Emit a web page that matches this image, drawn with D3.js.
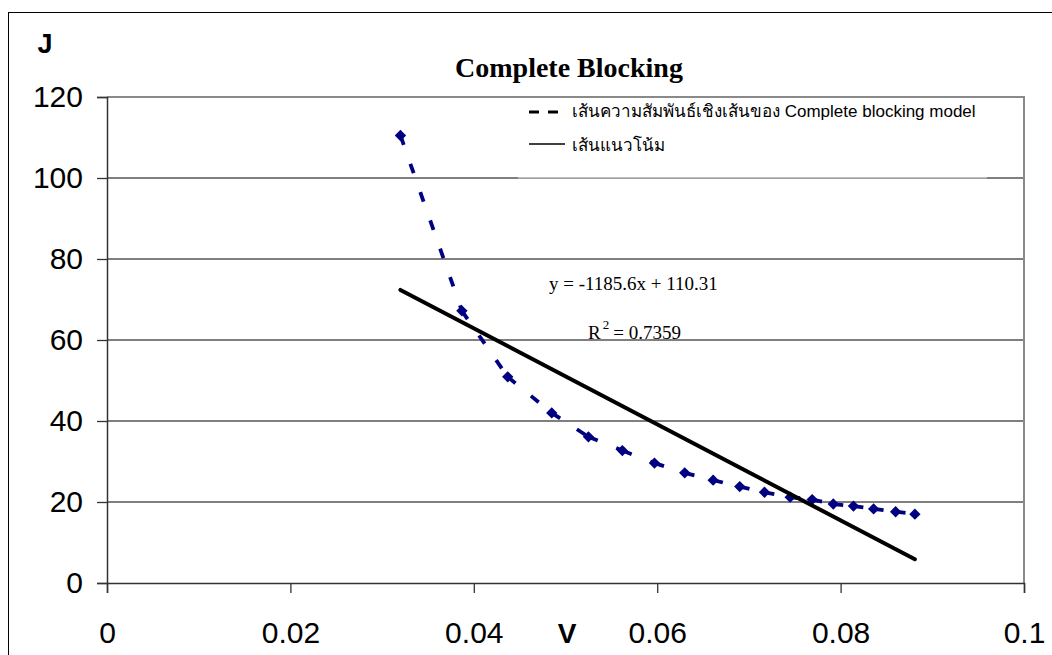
<!DOCTYPE html>
<html>
<head>
<meta charset="utf-8">
<script src="https://cdn.jsdelivr.net/npm/d3@7"></script>
<style>
  html, body { margin: 0; padding: 0; background: #fff; }
  svg { display: block; }
</style>
</head>
<body>
<div id="chart"></div>
<script>
// Flux J against V for the complete blocking model
const V = [0.0320, 0.0387, 0.0437, 0.0485, 0.0525, 0.0562, 0.0597, 0.0630, 0.0661,
           0.0690, 0.0717, 0.0745, 0.0769, 0.0792, 0.0814, 0.0836, 0.0860, 0.0881];
const J = [110.5, 67.2, 50.9, 42.0, 36.1, 32.7, 29.6, 27.2, 25.4,
           23.8, 22.4, 21.2, 20.6, 19.5, 19.0, 18.3, 17.6, 17.0];

// Linear trend line as reported on the chart
const trendSlope = -1185.6;
const trendIntercept = 110.31;
const rSquared = "0.7359";

const xTicks = [0, 0.02, 0.04, 0.06, 0.08, 0.1];
const xTickLabels = ["0", "0.02", "0.04", "0.06", "0.08", "0.1"];
const yTicks = [0, 20, 40, 60, 80, 100, 120];

const legendLabels = ["เส้นความสัมพันธ์เชิงเส้นของ Complete blocking model", "เส้นแนวโน้ม"];
const titleText = "Complete Blocking";

const W = 1052, H = 655;
const plot = { left: 107, right: 1024, top: 97, bottom: 583 };

const svg = d3.select("#chart").append("svg")
  .attr("width", W).attr("height", H);

// outer chart frame
svg.append("rect")
  .attr("x", 8.5).attr("y", 12.5)
  .attr("width", W + 20).attr("height", H + 20)
  .attr("fill", "#fff").attr("stroke", "#000").attr("stroke-width", 1);

const x = d3.scaleLinear().domain([0, 0.1]).range([plot.left, plot.right]);
const y = d3.scaleLinear().domain([0, 120]).range([plot.bottom, plot.top]);

// horizontal gridlines
svg.append("g")
  .selectAll("line")
  .data(yTicks.filter(t => t > 0 && t < 120))
  .join("line")
  .attr("x1", plot.left).attr("x2", plot.right)
  .attr("y1", d => y(d)).attr("y2", d => y(d))
  .attr("stroke", "#555").attr("stroke-width", 1.3);

// plot area border (top and right)
svg.append("path")
  .attr("d", `M${plot.left},${y(120)} H${plot.right} V${plot.bottom}`)
  .attr("fill", "none").attr("stroke", "#8a8a8a").attr("stroke-width", 2);

// legend box
const lg = { x0: 518, x1: 987, y0: 99, y1: y(100) };
svg.append("rect")
  .attr("x", lg.x0).attr("y", lg.y0)
  .attr("width", lg.x1 - lg.x0).attr("height", lg.y1 - lg.y0)
  .attr("fill", "#fff");
svg.append("line")
  .attr("x1", lg.x0).attr("x2", lg.x1)
  .attr("y1", lg.y1).attr("y2", lg.y1)
  .attr("stroke", "#aaa").attr("stroke-width", 1.3);

// axes
const yAxis = d3.axisLeft(y).tickValues(yTicks).tickSize(10).tickPadding(14)
  .tickFormat(d3.format("d"));
const gy = svg.append("g").attr("transform", `translate(${plot.left},0)`).call(yAxis);
gy.select(".domain").attr("stroke", "#333").attr("stroke-width", 1.5);
gy.selectAll(".tick line").attr("stroke", "#333").attr("stroke-width", 1.3);
gy.selectAll(".tick text")
  .attr("font-family", "'Liberation Sans', Arial, sans-serif")
  .attr("font-size", 30).attr("fill", "#000");

const xAxis = d3.axisBottom(x).tickValues(xTicks).tickSize(10).tickPadding(29)
  .tickFormat((d, i) => xTickLabels[i]);
const gx = svg.append("g").attr("transform", `translate(0,${plot.bottom})`).call(xAxis);
gx.select(".domain").attr("stroke", "#333").attr("stroke-width", 1.5);
gx.selectAll(".tick line").attr("stroke", "#333").attr("stroke-width", 1.3);
gx.selectAll(".tick text")
  .attr("font-family", "'Liberation Sans', Arial, sans-serif")
  .attr("font-size", 30).attr("fill", "#000");

// axis titles
svg.append("text").attr("x", 45).attr("y", 53).attr("text-anchor", "middle")
  .attr("font-family", "'Liberation Sans', Arial, sans-serif")
  .attr("font-weight", "bold").attr("font-size", 27).text("J");
svg.append("text").attr("x", 567).attr("y", 643).attr("text-anchor", "middle")
  .attr("font-family", "'Liberation Sans', Arial, sans-serif")
  .attr("font-weight", "bold").attr("font-size", 28).text("V");

// title
svg.append("text").attr("x", 569).attr("y", 77).attr("text-anchor", "middle")
  .attr("font-family", "'Liberation Serif', 'Times New Roman', serif")
  .attr("font-weight", "bold").attr("font-size", 28).text(titleText);

const pts = V.map((v, i) => ({ v, j: J[i] }));
const navy = "#000080";

// dashed connector, pattern restarting on every segment
svg.append("g").selectAll("line")
  .data(d3.pairs(pts))
  .join("line")
  .attr("x1", d => x(d[0].v)).attr("y1", d => y(d[0].j))
  .attr("x2", d => x(d[1].v)).attr("y2", d => y(d[1].j))
  .attr("stroke", navy).attr("stroke-width", 3.8)
  .attr("stroke-dasharray", "10,20");

// diamond markers
svg.append("g").selectAll("path")
  .data(pts)
  .join("path")
  .attr("d", d3.symbol(d3.symbolSquare, 64))
  .attr("transform", d => `translate(${x(d.v)},${y(d.j)}) rotate(45)`)
  .attr("fill", navy);

// trend line from the fitted equation
const vExt = d3.extent(V);
svg.append("line")
  .attr("x1", x(vExt[0])).attr("y1", y(trendSlope * vExt[0] + trendIntercept))
  .attr("x2", x(vExt[1])).attr("y2", y(trendSlope * vExt[1] + trendIntercept))
  .attr("stroke", "#000").attr("stroke-width", 4).attr("stroke-linecap", "round");

// equation and R²
const serif = "'Liberation Serif', 'Times New Roman', serif";
svg.append("text").attr("x", 549).attr("y", 290)
  .attr("font-family", serif).attr("font-size", 19)
  .text(`y = ${trendSlope}x + ${trendIntercept}`);
const r2 = svg.append("text").attr("x", 588).attr("y", 339)
  .attr("font-family", serif).attr("font-size", 19);
r2.append("tspan").text("R");
r2.append("tspan").attr("dx", 2).attr("dy", -10).attr("font-size", 13).text("2");
r2.append("tspan").attr("dx", 4).attr("dy", 10).text(`= ${rSquared}`);

// legend entries
const lf = "'Liberation Sans', Arial, 'Noto Sans', sans-serif";
svg.append("line").attr("x1", 529).attr("x2", 561).attr("y1", 112).attr("y2", 112)
  .attr("stroke", "#000").attr("stroke-width", 3).attr("stroke-dasharray", "10,9");
svg.append("text").attr("x", 572).attr("y", 117)
  .attr("font-family", lf).attr("font-size", 17).text(legendLabels[0]);
svg.append("line").attr("x1", 529).attr("x2", 565).attr("y1", 144).attr("y2", 144)
  .attr("stroke", "#000").attr("stroke-width", 1.5);
svg.append("text").attr("x", 572).attr("y", 151)
  .attr("font-family", lf).attr("font-size", 17).text(legendLabels[1]);
</script>
</body>
</html>
